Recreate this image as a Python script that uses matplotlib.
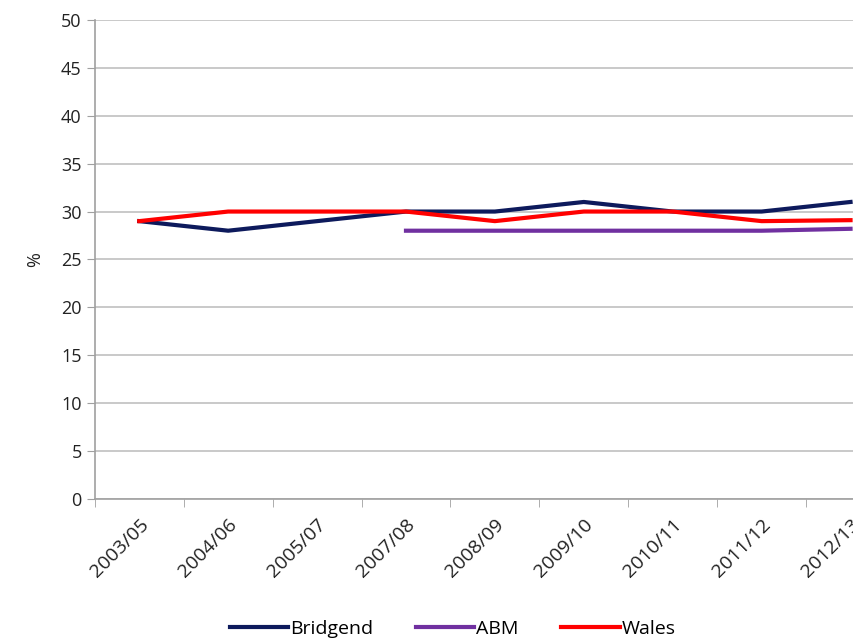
import matplotlib
matplotlib.use('Agg')
import matplotlib.pyplot as plt
import numpy as np

years = ['2003/05', '2004/06', '2005/07', '2007/08', '2008/09',
         '2009/10', '2010/11', '2011/12', '2012/13']
bridgend = [29, 28, 29, 30, 30, 31, 30, 30, 31]
abm = [np.nan, np.nan, np.nan, 28, 28, 28, 28, 28, 28.2]
wales = [29, 30, 30, 30, 29, 30, 30, 29, 29.1]

plt.rcParams['font.family'] = ['Open Sans', 'DejaVu Sans']

fig = plt.figure(figsize=(8.54, 6.43), dpi=100)
ax = fig.add_axes([0.111, 0.224, 0.937, 0.745])

x = np.arange(len(years))
ax.plot(x, bridgend, color='#0d1a5c', lw=3, label='Bridgend')
ax.plot(x, abm, color='#7030a0', lw=3, label='ABM')
ax.plot(x, wales, color='#ff0000', lw=3, label='Wales')

ax.set_ylim(0, 50)
ax.set_yticks(range(0, 51, 5))
ax.set_xlim(-0.5, len(years) - 0.5)
ax.set_xticks(x)
ax.set_xticklabels(years, rotation=45, ha='right', rotation_mode='anchor')
ax.set_xticks(np.arange(-0.5, len(years), 1), minor=True)
ax.tick_params(axis='x', which='major', length=0, pad=12, labelsize=14, colors='#222222')
ax.tick_params(axis='x', which='minor', length=6, color='#a0a0a0')
ax.tick_params(axis='y', length=6, color='#a0a0a0', labelsize=13, labelcolor='#222222')

ax.grid(axis='y', color='#c0c0c0', lw=1.2)
ax.set_axisbelow(True)
for s in ['top', 'right']:
    ax.spines[s].set_visible(False)
for s in ['left', 'bottom']:
    ax.spines[s].set_color('#a0a0a0')
    ax.spines[s].set_linewidth(1.2)

ax.set_ylabel('%', fontsize=13, color='#222222', labelpad=12)

fig.legend(loc='center', bbox_to_anchor=(0.53, 0.022), ncol=3, frameon=False,
           fontsize=14, handlelength=3, columnspacing=2.2, handletextpad=0.1)

fig.savefig('out.png', dpi=100)
